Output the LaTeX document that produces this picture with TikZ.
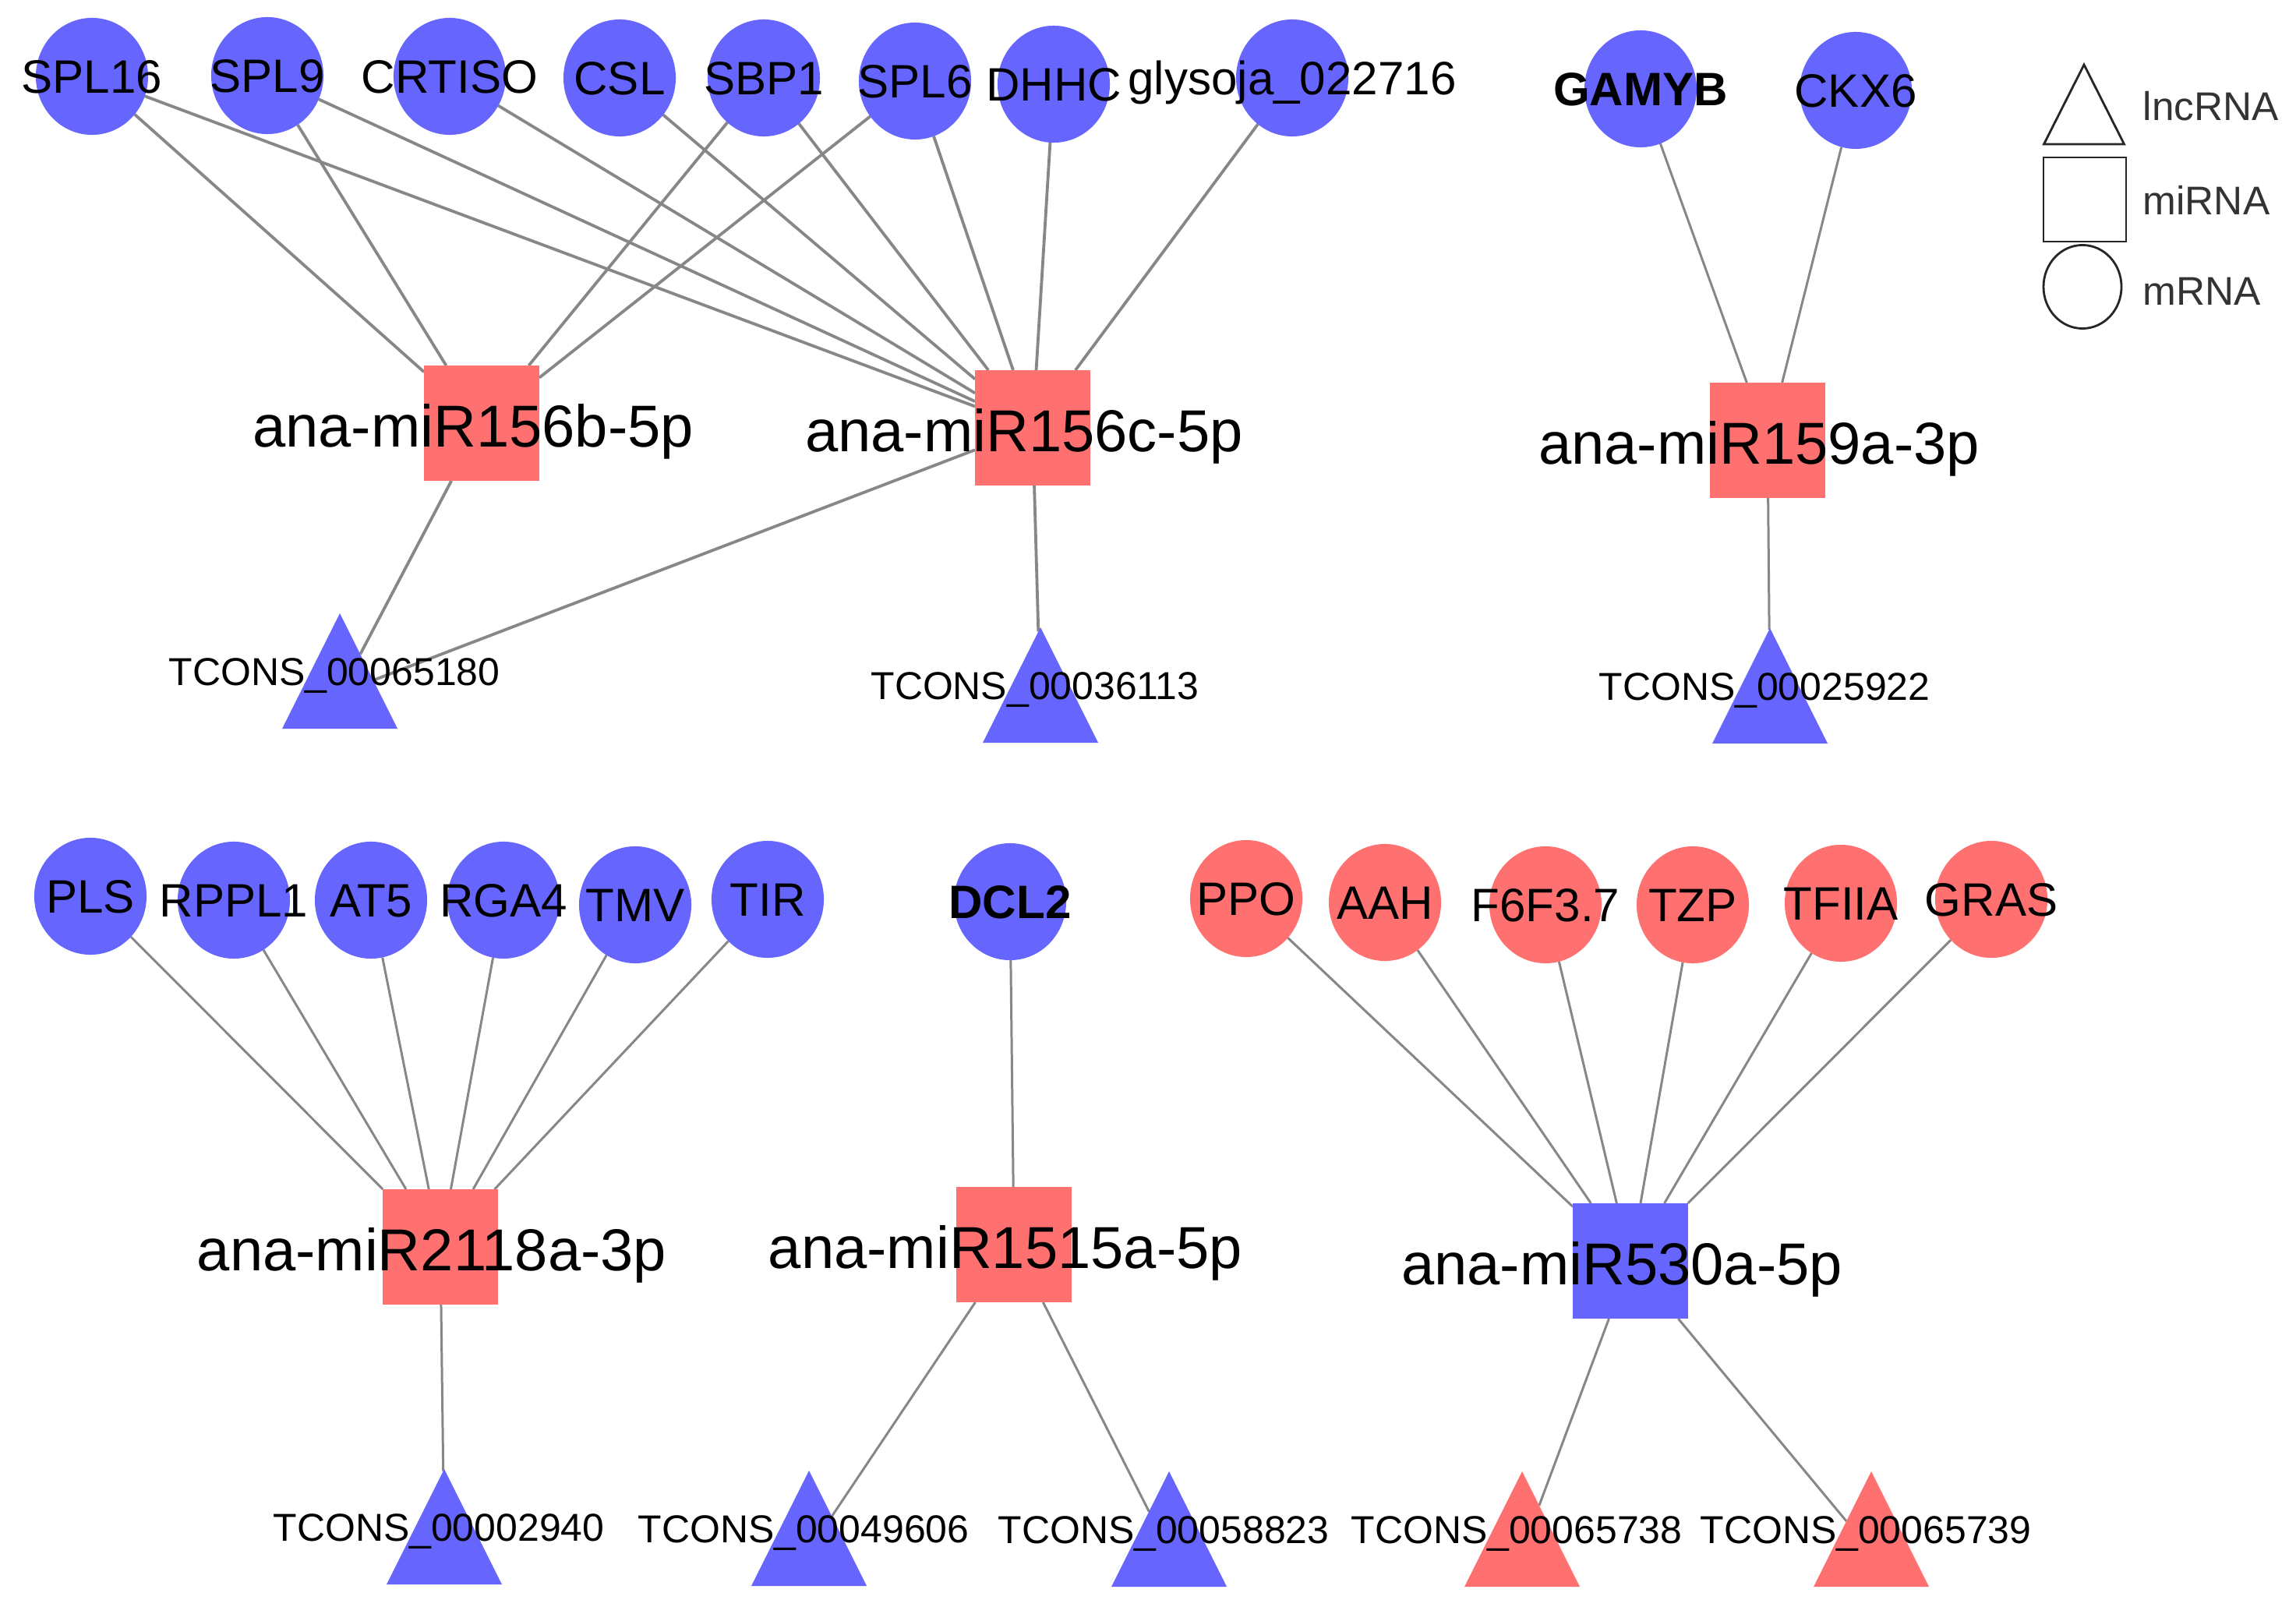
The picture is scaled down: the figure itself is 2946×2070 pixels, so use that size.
\documentclass[tikz,border=0pt]{standalone}
\usepackage{fontspec}
\setmainfont{Liberation Sans}
\usetikzlibrary{shapes.geometric}
\definecolor{nblue}{RGB}{102,102,255}
\definecolor{nred}{RGB}{255,112,112}
\definecolor{ecol}{RGB}{135,135,135}
\pgfdeclarelayer{bgwhite}
\pgfdeclarelayer{edges}
\pgfsetlayers{bgwhite,edges,main}
\tikzset{
  mrna/.style={ellipse, minimum width=1.44cm, minimum height=1.50cm, inner sep=0pt, outer sep=0pt, fill=nblue},
  mrnar/.style={mrna, fill=nred},
  mirna/.style={rectangle, minimum width=1.48cm, minimum height=1.48cm, inner sep=0pt, outer sep=0pt, fill=nred},
  mirnab/.style={mirna, fill=nblue},
  lnc/.style={isosceles triangle, isosceles triangle stretches, shape border rotate=90,
    minimum width=1.48cm, minimum height=1.48cm, inner sep=0pt, outer sep=0pt, fill=nblue, anchor=apex},
  lncr/.style={lnc, fill=nred},
  mlab/.style={font=\fontsize{17.1pt}{20pt}\selectfont, anchor=base, inner sep=0pt, yshift=-0.215cm},
  milab/.style={font=\fontsize{21.6pt}{26pt}\selectfont, anchor=base, inner sep=0pt, xshift=-0.11cm, yshift=-0.30cm},
  tlab/.style={font=\fontsize{14.2pt}{17pt}\selectfont, anchor=base, inner sep=0pt, xshift=-0.07cm, yshift=-0.925cm},
  leglab/.style={font=\fontsize{14.6pt}{17pt}\selectfont, anchor=base west, inner sep=0pt, text=black!80},
  legshape/.style={draw=black!85, line width=0.8pt, fill=none},
  edgeA/.style={draw=ecol, line width=1.08pt},
  edgeB/.style={draw=ecol, line width=0.85pt}
}
\begin{document}
\begin{tikzpicture}[x=0.01cm, y=-0.01cm]
\useasboundingbox (0,0) rectangle (2946,2070);
\begin{pgfonlayer}{bgwhite}
\fill[white] (0,0) rectangle (2946,2070);
\end{pgfonlayer}

% ---------- group miR156 ----------
\node[mrna] (spl16) at (118,98) {};
\node[mrna] (spl9) at (343,97) {};
\node[mrna] (crtiso) at (577,98) {};
\node[mrna] (csl) at (795,100) {};
\node[mrna] (sbp1) at (980,100) {};
\node[mrna] (spl6) at (1174,104) {};
\node[mrna] (dhhc) at (1352,108) {};
\node[mrna] (glysoja) at (1658,100) {};
\node[mirna] (m156b) at (618,543) {};
\node[mirna] (m156c) at (1325,549) {};
\node[lnc] (t65180) at (436,787) {};
\node[lnc] (t36113) at (1335,805) {};

% ---------- group miR159 ----------
\node[mrna] (gamyb) at (2105,114) {};
\node[mrna] (ckx6) at (2381,116) {};
\node[mirna] (m159a) at (2268,565) {};
\node[lnc] (t25922) at (2271,806) {};

% ---------- group miR2118 ----------
\node[mrna] (pls) at (116,1150) {};
\node[mrna] (rppl1) at (300,1155) {};
\node[mrna] (at5) at (476,1155) {};
\node[mrna] (rga4) at (646,1155) {};
\node[mrna] (tmv) at (815,1161) {};
\node[mrna] (tir) at (985,1154) {};
\node[mirna] (m2118a) at (565,1600) {};
\node[lnc] (t02940) at (570,1885) {};

% ---------- group miR1515 ----------
\node[mrna] (dcl2) at (1296,1157) {};
\node[mirna] (m1515a) at (1301,1597) {};
\node[lnc] (t49606) at (1038,1887) {};
\node[lnc] (t58823) at (1500,1888) {};

% ---------- group miR530 ----------
\node[mrnar] (ppo) at (1599,1153) {};
\node[mrnar] (aah) at (1777,1158) {};
\node[mrnar] (f6f) at (1983,1161) {};
\node[mrnar] (tzp) at (2172,1161) {};
\node[mrnar] (tfiia) at (2362,1159) {};
\node[mrnar] (gras) at (2555,1154) {};
\node[mirnab] (m530a) at (2092,1618) {};
\node[lncr] (t65738) at (1953,1888) {};
\node[lncr] (t65739) at (2401,1888) {};

% ---------- edges ----------
\begin{pgfonlayer}{edges}
\foreach \a in {spl16,spl9,sbp1,spl6,t65180}
  \draw[edgeA] (\a) -- (m156b);
\foreach \a in {spl16,spl9,crtiso,csl,sbp1,spl6,dhhc,glysoja,t65180,t36113}
  \draw[edgeA] (\a) -- (m156c);
\foreach \a in {gamyb,ckx6,t25922}
  \draw[edgeB] (\a) -- (m159a);
\foreach \a in {pls,rppl1,at5,rga4,tmv,tir,t02940}
  \draw[edgeB] (\a) -- (m2118a);
\foreach \a in {dcl2,t49606,t58823}
  \draw[edgeB] (\a) -- (m1515a);
\foreach \a in {ppo,aah,f6f,tzp,tfiia,gras,t65738,t65739}
  \draw[edgeB] (\a) -- (m530a);
\end{pgfonlayer}

% ---------- labels ----------
\node[mlab] (l-spl16) at (spl16) {SPL16};
\node[mlab] (l-spl9) at (spl9) {SPL9};
\node[mlab] (l-crtiso) at (crtiso) {CRTISO};
\node[mlab] (l-csl) at (csl) {CSL};
\node[mlab] (l-sbp1) at (sbp1) {SBP1};
\node[mlab] (l-spl6) at (spl6) {SPL6};
\node[mlab] (l-dhhc) at (dhhc) {DHHC};
\node[mlab] (l-glysoja) at (glysoja) {glysoja\_022716};
\node[mlab] (l-gamyb) at (gamyb) {\bfseries GAMYB};
\node[mlab] (l-ckx6) at (ckx6) {CKX6};
\node[mlab] (l-pls) at (pls) {PLS};
\node[mlab] (l-rppl1) at (rppl1) {RPPL1};
\node[mlab] (l-at5) at (at5) {AT5};
\node[mlab] (l-rga4) at (rga4) {RGA4};
\node[mlab] (l-tmv) at (tmv) {TMV};
\node[mlab] (l-tir) at (tir) {TIR};
\node[mlab] (l-dcl2) at (dcl2) {\bfseries DCL2};
\node[mlab] (l-ppo) at (ppo) {PPO};
\node[mlab] (l-aah) at (aah) {AAH};
\node[mlab] (l-f6f) at (f6f) {F6F3.7};
\node[mlab] (l-tzp) at (tzp) {TZP};
\node[mlab] (l-tfiia) at (tfiia) {TFIIA};
\node[mlab] (l-gras) at (gras) {GRAS};

\node[milab] (l-m156b) at (m156b) {ana-miR156b-5p};
\node[milab] (l-m156c) at (m156c) {ana-miR156c-5p};
\node[milab] (l-m159a) at (m159a) {ana-miR159a-3p};
\node[milab] (l-m2118a) at (m2118a) {ana-miR2118a-3p};
\node[milab] (l-m1515a) at (m1515a) {ana-miR1515a-5p};
\node[milab] (l-m530a) at (m530a) {ana-miR530a-5p};

\node[tlab] (l-t65180) at (t65180.apex) {TCONS\_00065180};
\node[tlab] (l-t36113) at (t36113.apex) {TCONS\_00036113};
\node[tlab] (l-t25922) at (t25922.apex) {TCONS\_00025922};
\node[tlab] (l-t02940) at (t02940.apex) {TCONS\_00002940};
\node[tlab] (l-t49606) at (t49606.apex) {TCONS\_00049606};
\node[tlab] (l-t58823) at (t58823.apex) {TCONS\_00058823};
\node[tlab] (l-t65738) at (t65738.apex) {TCONS\_00065738};
\node[tlab] (l-t65739) at (t65739.apex) {TCONS\_00065739};

% ---------- legend ----------
\node[lnc, legshape, minimum width=1.03cm, minimum height=1.02cm] (leg-tri) at (2674,83) {};
\node[rectangle, legshape, minimum width=1.06cm, minimum height=1.08cm, inner sep=0pt] (leg-sq) at (2675,256) {};
\node[ellipse, legshape, minimum width=1.00cm, minimum height=1.07cm, inner sep=0pt] (leg-ci) at (2672,368) {};
\node[leglab] (leg-t1) at (2749,155) {lncRNA};
\node[leglab] (leg-t2) at (2749,276) {miRNA};
\node[leglab] (leg-t3) at (2749,392) {mRNA};
\end{tikzpicture}
\end{document}
